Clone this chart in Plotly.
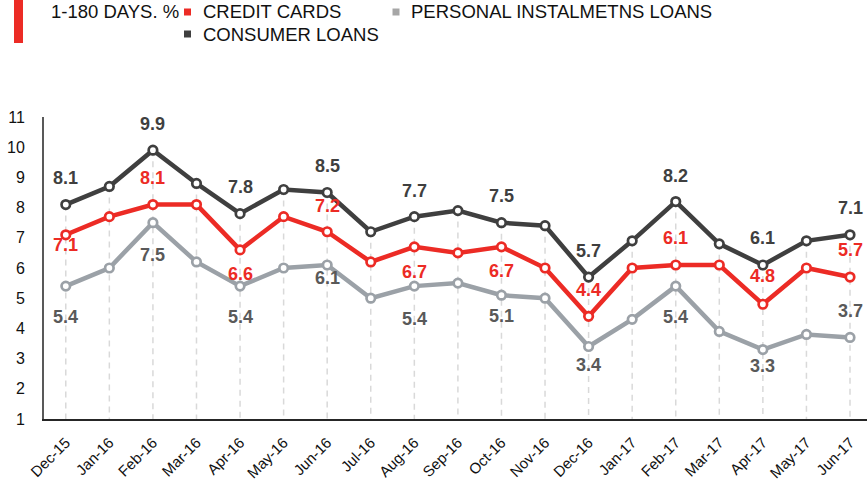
import plotly.graph_objects as go

# ---------------- data ----------------
months = ["Dec-15", "Jan-16", "Feb-16", "Mar-16", "Apr-16", "May-16", "Jun-16",
          "Jul-16", "Aug-16", "Sep-16", "Oct-16", "Nov-16", "Dec-16", "Jan-17",
          "Feb-17", "Mar-17", "Apr-17", "May-17", "Jun-17"]
consumer_loans = [8.1, 8.7, 9.9, 8.8, 7.8, 8.6, 8.5, 7.2, 7.7, 7.9, 7.5, 7.4,
                  5.7, 6.9, 8.2, 6.8, 6.1, 6.9, 7.1]
credit_cards = [7.1, 7.7, 8.1, 8.1, 6.6, 7.7, 7.2, 6.2, 6.7, 6.5, 6.7, 6.0,
                4.4, 6.0, 6.1, 6.1, 4.8, 6.0, 5.7]
personal_loans = [5.4, 6.0, 7.5, 6.2, 5.4, 6.0, 6.1, 5.0, 5.4, 5.5, 5.1, 5.0,
                  3.4, 4.3, 5.4, 3.9, 3.3, 3.8, 3.7]
series_names = ["CREDIT CARDS", "PERSONAL INSTALMETNS LOANS", "CONSUMER LOANS"]
title_text = "1-180 DAYS. %"
y_tick_values = list(range(1, 12))

# ---------------- styling ----------------
FONT = "Liberation Sans, Arial, sans-serif"
RED = "#EC2B25"
DARK = "#3F3F3F"
GRAY = "#9BA1A7"
LABEL_GRAY = "#595959"

label_idx = list(range(0, 19, 2))
consumer_shift = [26, 25, 26, 26, 25, 26, 25, 25, 26, 26]
credit_shift = [-11, 26, -25, 25, -26, -25, 25, 26, 27, 26]
personal_shift = [-32, -33, -32, -14, -34, -22, -19, -32, -17, 25]

L, R, T, B = 44, 0, 117, 65
W, H = 867, 484
PW, PH = W - L - R, H - T - B


def px(x):
    return (x - L) / PW


def py(y):
    return (H - B - y) / PH


fig = go.Figure()

# drop lines from highest series down to the axis
dx, dy = [], []
for i, m in enumerate(months):
    top = max(consumer_loans[i], credit_cards[i], personal_loans[i])
    dx += [m, m, None]
    dy += [top, 1, None]
fig.add_trace(go.Scatter(x=dx, y=dy, mode="lines", hoverinfo="skip",
                         line=dict(color="#D9D9D9", width=1.5, dash="6px,5px"),
                         showlegend=False))

for vals, color in [(personal_loans, GRAY), (credit_cards, RED), (consumer_loans, DARK)]:
    fig.add_trace(go.Scatter(
        x=months, y=vals, mode="lines+markers",
        line=dict(color=color, width=4.5),
        marker=dict(size=8.5, color="white", line=dict(color=color, width=2.7)),
        showlegend=False, cliponaxis=False))

annotations = []
for vals, shifts, color in [(consumer_loans, consumer_shift, DARK),
                            (credit_cards, credit_shift, RED),
                            (personal_loans, personal_shift, LABEL_GRAY)]:
    for k, i in enumerate(label_idx):
        annotations.append(dict(
            x=months[i], y=vals[i], xref="x", yref="y",
            text="<b>" + f"{vals[i]:.1f}" + "</b>", showarrow=False,
            xanchor="center", yanchor="middle", yshift=shifts[k] + 1,
            font=dict(family=FONT, size=18, color=color)))

# legend / title texts
annotations.append(dict(x=px(49), y=py(12), xref="paper", yref="paper",
                        text=title_text, showarrow=False, xanchor="left", yanchor="middle",
                        font=dict(family=FONT, size=18.5, color="#111111")))
legend_pos = [(201, 12), (409, 12), (201, 34)]
for name, (lx, ly) in zip(series_names, legend_pos):
    annotations.append(dict(x=px(lx), y=py(ly), xref="paper", yref="paper",
                            text=name, showarrow=False, xanchor="left", yanchor="middle",
                            font=dict(family=FONT, size=18.5, color="#111111")))

shapes = [dict(type="rect", xref="paper", yref="paper",
               x0=px(14), x1=px(23), y0=py(43), y1=py(0),
               fillcolor=RED, line=dict(width=0))]
square_centers = [(187.5, 12), (396, 12), (187.5, 34)]
for color, (cx, cy) in zip([RED, "#A6A6A6", DARK], square_centers):
    shapes.append(dict(type="rect", xref="paper", yref="paper",
                       x0=px(cx - 3.5), x1=px(cx + 3.5), y0=py(cy + 3.5), y1=py(cy - 3.5),
                       fillcolor=color, line=dict(width=0)))

fig.update_layout(
    width=W, height=H,
    margin=dict(l=L, r=R, t=T, b=B, pad=0),
    paper_bgcolor="white", plot_bgcolor="white",
    font=dict(family=FONT, size=15, color="#111111"),
    annotations=annotations, shapes=shapes,
    xaxis=dict(type="category", categoryorder="array", categoryarray=months,
               range=[-0.5, 18.39], showgrid=False, zeroline=False,
               showline=True, linecolor="#262626", linewidth=2,
               tickangle=-45, ticks="", tickfont=dict(family=FONT, size=15, color="#111111"),
               ticklabelstandoff=7),
    yaxis=dict(range=[1, 11], tickvals=y_tick_values, showgrid=False, zeroline=False,
               showline=True, linecolor="#595959", linewidth=2, ticks="",
               tickfont=dict(family=FONT, size=16, color="#111111"),
               ticklabelstandoff=14),
)

fig.write_html("out.html")
